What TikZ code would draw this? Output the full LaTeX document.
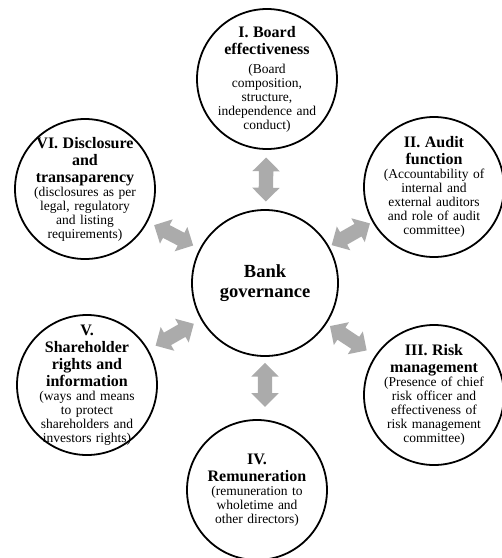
\documentclass[tikz,border=0pt]{standalone}
\usepackage{fontspec}
\setmainfont{Liberation Serif}
\usetikzlibrary{shapes,positioning}
\tikzset{
    cirblk/.style={circle,draw,minimum size=140pt,inner sep=0pt,fill=white,draw=black,line width=1.8pt},
    cirmid/.style={cirblk,minimum size=146pt},
    cirtxt/.style={align=center,text width=130pt,inner sep=0pt,text=black,font=\fontsize{13.5}{14}\selectfont},
    midtxt/.style={align=center,inner sep=0pt,text=black,font=\fontsize{18.5}{20}\selectfont\bfseries},
    arrgry/.style={double arrow,draw=none,fill=black!33,minimum height=44pt,inner sep=0pt,inner ysep=7pt,double arrow head extend=6.5pt,sloped}
}
\newcommand{\cirttl}[1]{{\fontsize{16}{17}\selectfont\bfseries #1\par}}

\begin{document}
\begin{tikzpicture}[x=1pt,y=-1pt]
        \useasboundingbox (0,0) rectangle (502,558);

        % Bank governance
        \node[cirmid] (govcircle) at (265,283) {};
        \node[midtxt] (govtext) at (govcircle) {Bank\\governance};

        % I. Board effectiveness
        \node[cirblk] (boardcircle) at (267,79) {};
        \node[cirtxt] (boardtext) at (boardcircle) {\cirttl{I. Board\\effectiveness}\vspace{5pt}(Board\\composition,\\structure,\\independence and\\conduct)};

        % II. Audit function
        \node[cirblk] (auditcircle) at (434,187) {};
        \node[cirtxt] (audittext) at (auditcircle) {\cirttl{II. Audit\\function}(Accountability of\\internal and\\external auditors\\and role of audit\\committee)};

        % III. Risk management
        \node[cirblk] (riskcircle) at (434,395) {};
        \node[cirtxt] (risktext) at (riskcircle) {\cirttl{III. Risk\\management}(Presence of chief\\risk officer and\\effectiveness of\\risk management\\committee)};

        % IV. Remuneration
        \node[cirblk] (remcircle) at (257,490) {};
        \node[cirtxt] (remtext) at (remcircle) {\cirttl{IV.\\Remuneration}(remuneration to\\wholetime and\\other directors)};

        % V. Shareholder rights
        \node[cirblk] (sharecircle) at (87,385) {};
        \node[cirtxt] (sharetext) at (sharecircle) {\cirttl{V.\\Shareholder\\rights and\\information}(ways and means\\to protect\\shareholders and\\investors rights)};

        % VI. Disclosure
        \node[cirblk] (disccircle) at (85,189) {};
        \node[cirtxt] (disctext) at (disccircle) {\cirttl{VI. Disclosure\\and\\transaparency}(disclosures as per\\legal, regulatory\\and listing\\requirements)};

        % gray double arrows
        \path (govcircle) -- node[arrgry] (boardarr) {} (boardcircle);
        \path (govcircle) -- node[arrgry] (auditarr) {} (auditcircle);
        \path (govcircle) -- node[arrgry,pos=.45] (riskarr) {} (riskcircle);
        \path (govcircle.south) -- node[arrgry,pos=.45] (remarr) {} (govcircle.south |- remcircle.north);
        \path (govcircle) -- node[arrgry] (sharearr) {} (sharecircle);
        \path (govcircle) -- node[arrgry] (discarr) {} (disccircle);

    \end{tikzpicture}
\end{document}
